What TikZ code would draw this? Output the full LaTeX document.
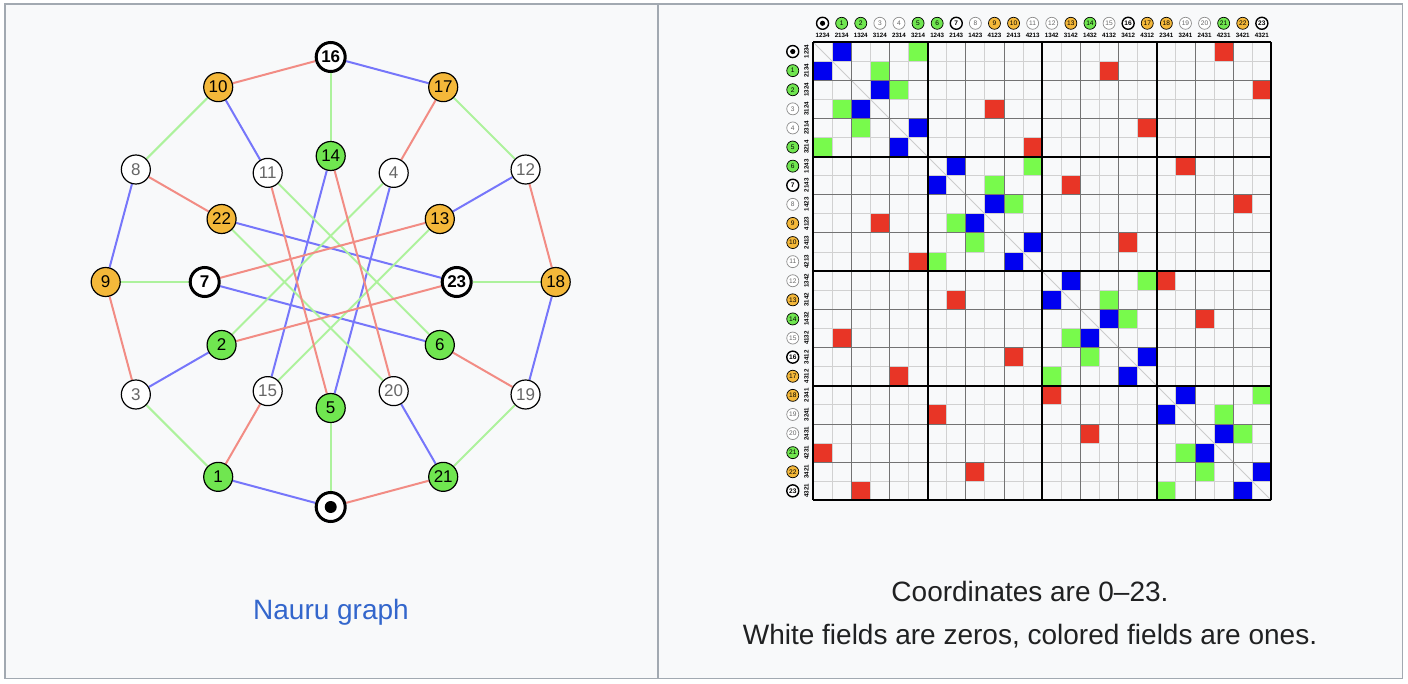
\documentclass[tikz,border=0pt]{standalone}
\usepackage{fontspec}
\setmainfont{Liberation Sans}
\usepackage{tikz}
\usetikzlibrary{positioning, calc}

\definecolor{pagebg}{HTML}{F8F9FA}
\definecolor{framegray}{HTML}{A2A9B1}
\definecolor{linkblue}{HTML}{3366CC}
\definecolor{inkgray}{HTML}{202122}
\definecolor{eblue}{HTML}{7676FA}
\definecolor{egreen}{HTML}{ADF29C}
\definecolor{ered}{HTML}{F28C84}
\definecolor{ngreen}{HTML}{70E650}
\definecolor{norange}{HTML}{F4B83A}
\definecolor{mblue}{HTML}{0000F0}
\definecolor{mgreen}{HTML}{78FA4C}
\definecolor{mred}{HTML}{E83526}

\pgfdeclarelayer{back}
\pgfdeclarelayer{wires}
\pgfsetlayers{back,wires,main}

% edges of the graph, by colour
\newcommand\blueE{0/1,2/3,4/5,6/7,8/9,10/11,12/13,14/15,16/17,18/19,20/21,22/23}
\newcommand\greenE{0/5,1/3,2/4,6/11,7/9,8/10,12/17,13/15,14/16,18/23,19/21,20/22}
\newcommand\redE{0/21,1/15,2/23,3/9,4/17,5/11,6/19,7/13,8/22,10/16,12/18,14/20}

\tikzset{
	big/.style={circle, draw, inner sep=0pt, minimum size=14.5pt, line width=0.6pt, font=\fontsize{8.5}{10}\selectfont},
	small/.style={circle, draw, inner sep=0pt, minimum size=6pt, line width=0.35pt, font=\fontsize{3.3}{4}\selectfont},
	ring/.style={line width=1.5pt},
	dot radius/.store in=\dotr, dot radius=3pt,
	grn/.style={fill=ngreen},
	orn/.style={fill=norange},
	wht/.style={fill=white, text=black!60},
	blk/.style={fill=white, ring, execute at begin node=\bfseries},
	bull/.style={fill=white, ring, text opacity=0, path picture={\fill[black] (path picture bounding box.center) circle (\dotr);}},
	wire/.style={line width=1pt},
	perm/.style={inner sep=0pt, font=\fontsize{3.1}{3.5}\selectfont\bfseries},
	caption/.style={font=\fontsize{14}{16}\selectfont, text=inkgray},
}

\begin{document}
\begin{tikzpicture}[x=0.5pt, y=-0.5pt]
	\useasboundingbox (0,0) rectangle (1408,684);
	\begin{pgfonlayer}{back}
		\fill[white] (0,0) rectangle (1408,684);
		\draw[framegray, line width=0.75pt, fill=pagebg] (5,4) rectangle (1402.7,678.3);
		\draw[framegray, line width=0.75pt] (658,4) -- (658,678.3);
	\end{pgfonlayer}
	
	% the graph
	\begin{scope}[shift={(330.7,282)}, y=0.5pt]
		\foreach \n/\a/\r/\s in {0/-90/225/bull, 1/-120/225/grn, 2/-150/126/grn, 3/-150/225/wht,
			4/60/126/wht, 5/-90/126/grn, 6/-30/126/grn, 7/180/126/blk, 8/150/225/wht, 9/180/225/orn,
			10/120/225/orn, 11/120/126/wht, 12/30/225/wht, 13/30/126/orn, 14/90/126/grn, 15/-120/126/wht,
			16/90/225/blk, 17/60/225/orn, 18/0/225/orn, 19/-30/225/wht, 20/-60/126/wht, 21/-60/225/grn,
			22/150/126/orn, 23/0/126/blk}
			\node[big, \s] (v\n) at (\a:\r) {\n};
	\end{scope}
	\begin{pgfonlayer}{wires}
		\foreach \u/\v in \blueE \draw[wire, eblue] (v\u) -- (v\v);
		\foreach \u/\v in \greenE \draw[wire, egreen] (v\u) -- (v\v);
		\foreach \u/\v in \redE \draw[wire, ered] (v\u) -- (v\v);
	\end{pgfonlayer}
	\node[caption, text=linkblue] (gcap) at (331,612) {Nauru graph};
	
	% the matrix
	\begin{scope}[shift={(813,42)}, x=9.55pt, y=-9.55pt, ring/.style={line width=0.7pt}, dot radius=1.3pt,
		wht/.append style={draw=black!45}]
		\draw[black!20, line width=0.4pt] (0,0) -- (24,24);
		\foreach \u/\v in \blueE {\fill[mblue] (\v,\u) rectangle ++(1,1); \fill[mblue] (\u,\v) rectangle ++(1,1);}
		\foreach \u/\v in \greenE {\fill[mgreen] (\v,\u) rectangle ++(1,1); \fill[mgreen] (\u,\v) rectangle ++(1,1);}
		\foreach \u/\v in \redE {\fill[mred] (\v,\u) rectangle ++(1,1); \fill[mred] (\u,\v) rectangle ++(1,1);}
		\foreach \k in {1,3,...,23} {\draw[black!18, line width=0.5pt] (\k,0) -- (\k,24); \draw[black!18, line width=0.5pt] (0,\k) -- (24,\k);}
		\foreach \k in {2,4,8,10,14,16,20,22} {\draw[black!55, line width=0.5pt] (\k,0) -- (\k,24); \draw[black!55, line width=0.5pt] (0,\k) -- (24,\k);}
		\foreach \k in {0,6,...,24} {\draw[black, line width=1pt] (\k,0) -- (\k,24); \draw[black, line width=1pt] (0,\k) -- (24,\k);}
		
		\foreach \k/\p/\s in {0/1234/bull, 1/2134/grn, 2/1324/grn, 3/3124/wht, 4/2314/wht, 5/3214/grn,
			6/1243/grn, 7/2143/blk, 8/1423/wht, 9/4123/orn, 10/2413/orn, 11/4213/wht,
			12/1342/wht, 13/3142/orn, 14/1432/grn, 15/4132/wht, 16/3412/blk, 17/4312/orn,
			18/2341/orn, 19/3241/wht, 20/2431/wht, 21/4231/grn, 22/3421/orn, 23/4321/blk} {
			\node[small, \s] (c\k) at (\k+0.5,-0.98) {\k};
			\node[perm] (cp\k) at (\k+0.5,-0.34) {\p};
			\node[small, \s] (r\k) at (-1.06,\k+0.5) {\k};
			\node[perm, rotate=90] (rp\k) at (-0.34,\k+0.5) {\p};
		}
	\end{scope}
	\node[caption] (note1) at (1030,591) {Coordinates are 0–23.};
	\node[caption] (note2) at (1030,636) {White fields are zeros, colored fields are ones.};
\end{tikzpicture}
\end{document}
